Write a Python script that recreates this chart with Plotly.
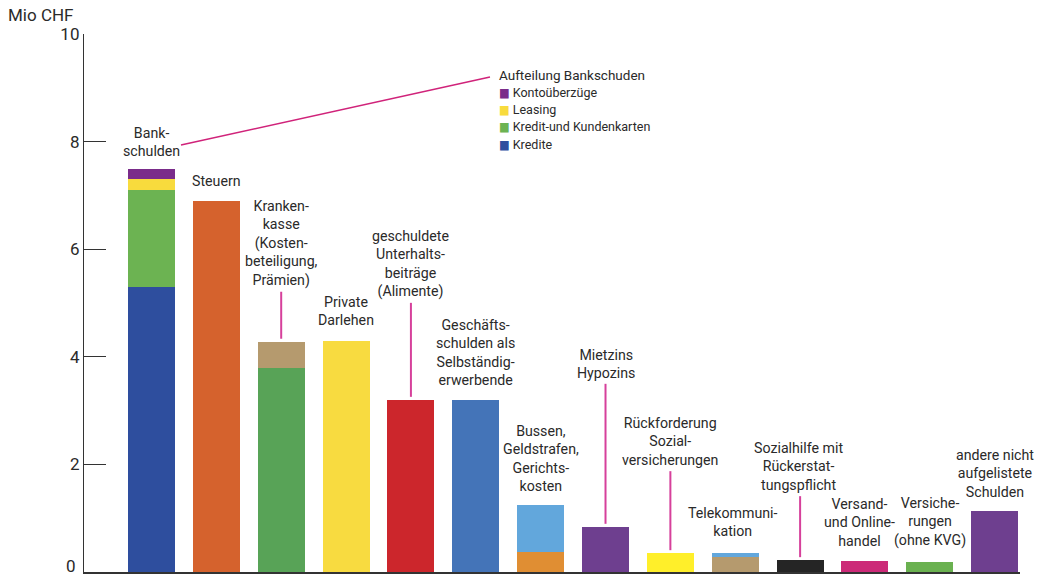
import plotly.graph_objects as go

# ---------------- data ----------------
categories = ["Bankschulden", "Steuern", "Krankenkasse", "Private Darlehen",
              "Unterhaltsbeiträge", "Geschäftsschulden", "Bussen", "Mietzins Hypozins",
              "Rückforderung Sozialversicherungen", "Telekommunikation", "Sozialhilfe",
              "Versand- und Onlinehandel", "Versicherungen", "andere"]
labels = ["Bank-<br>schulden", "Steuern",
          "Kranken-<br>kasse<br>(Kosten-<br>beteiligung,<br>Prämien)",
          "Private<br>Darlehen",
          "geschuldete<br>Unterhalts-<br>beiträge<br>(Alimente)",
          "Geschäfts-<br>schulden als<br>Selbständig-<br>erwerbende",
          "Bussen,<br>Geldstrafen,<br>Gerichts-<br>kosten",
          "Mietzins<br>Hypozins",
          "Rückforderung<br>Sozial-<br>versicherungen",
          "Telekommuni-<br>kation",
          "Sozialhilfe mit<br>Rückerstat-<br>tungspflicht",
          "Versand-<br>und Online-<br>handel",
          "Versiche-<br>rungen<br>(ohne KVG)",
          "andere nicht<br>aufgelistete<br>Schulden"]
seg1 = [5.30, 6.90, 3.80, 4.30, 3.20, 3.20, 0.38, 0.84, 0.35, 0.28, 0.22, 0.20, 0.19, 1.13]
seg2 = [1.80, 0, 0.48, 0, 0, 0, 0.86, 0, 0, 0.07, 0, 0, 0, 0]
seg3 = [0.20, 0, 0, 0, 0, 0, 0, 0, 0, 0, 0, 0, 0, 0]
seg4 = [0.20, 0, 0, 0, 0, 0, 0, 0, 0, 0, 0, 0, 0, 0]
bank_legend = ["Kontoüberzüge", "Leasing", "Kredit-und Kundenkarten", "Kredite"]
y_ticks = [0, 2, 4, 6, 8, 10]
y_ticktext = ["", "2", "4", "6", "8", "10"]

# ---------------- styles ----------------
C_KREDITE = "#2E4E9E"
C_KARTEN = "#6CB352"
C_LEASING = "#F8DB3D"
C_KONTO = "#7A2C8A"
C_TAN = "#B59A6E"
C_LBLUE = "#62A7DC"
col1 = [C_KREDITE, "#D5622D", "#58A357", "#F8DB40", "#CC262C", "#4474B8", "#E08E33",
        "#6E3F8F", "#FFEF2A", C_TAN, "#252525", "#CC2A78", "#6AB150", "#6E3F8F"]
col2 = [C_KARTEN, "#fff", C_TAN, "#fff", "#fff", "#fff", C_LBLUE, "#fff", "#fff",
        C_LBLUE, "#fff", "#fff", "#fff", "#fff"]
col3 = [C_LEASING] + ["#fff"] * 13
col4 = [C_KONTO] + ["#fff"] * 13
legend_colors = [C_KONTO, C_LEASING, C_KARTEN, C_KREDITE]

label_gap = [8, 10, 51, 11, 98, 10, 9, 144, 83, 12, 65, 10, 11, 9]
leader = [False, False, True, False, True, False, False, True, True, False, True, False, False, False]
label_dx = [0, 0, 0, 0, 0, 0, 0, 0, 0, -2, -2, -5, 0, 0]

FONT = "Roboto, DejaVu Sans Condensed, sans-serif"
TXT = "#2a2a2a"
PINK = "#D6409B"

W, H = 1044, 576
ML, MR, MT, MB = 84, 24, 34, 4
plot_w = W - ML - MR
plot_h = H - MT - MB
x_range = [-1.04, 13.39]
y_range = [0, 10]
ppu = plot_h / (y_range[1] - y_range[0])
ppx = plot_w / (x_range[1] - x_range[0])

xs = list(range(len(categories)))

fig = go.Figure()
for seg, col in [(seg1, col1), (seg2, col2), (seg3, col3), (seg4, col4)]:
    fig.add_trace(go.Bar(x=xs, y=seg, marker=dict(color=col, line=dict(width=0)),
                         width=0.725, showlegend=False, hoverinfo="skip"))

totals = [a + b + c + d for a, b, c, d in zip(seg1, seg2, seg3, seg4)]

annotations = []
shapes = []
for i, (lab, tot) in enumerate(zip(labels, totals)):
    annotations.append(dict(x=i, y=tot, xref="x", yref="y", text=lab, showarrow=False,
                            xanchor="center", yanchor="bottom", yshift=label_gap[i],
                            xshift=label_dx[i],
                            font=dict(family=FONT, size=14.2, color=TXT), align="center"))
    if leader[i]:
        shapes.append(dict(type="line", xref="x", yref="y", x0=i, x1=i,
                           y0=tot + 3 / ppu, y1=tot + (label_gap[i] - 1) / ppu,
                           line=dict(color=PINK, width=2)))

# Bank breakdown legend
leg_x = (497 - ML) / plot_w
def py2paper(py):
    return (H - MB - py) / plot_h

annotations.append(dict(x=leg_x, y=py2paper(75), xref="paper", yref="paper",
                        text="Aufteilung Bankschuden", showarrow=False, xanchor="left",
                        yanchor="middle", font=dict(family=FONT, size=13.5, color=TXT)))
for k, (name, col) in enumerate(zip(bank_legend, legend_colors)):
    annotations.append(dict(x=leg_x, y=py2paper(92 + k * 17.5), xref="paper", yref="paper",
                            text=f'<span style="color:{col}">■</span> {name}', showarrow=False,
                            xanchor="left", yanchor="middle",
                            font=dict(family=FONT, size=12.5, color=TXT)))

# leader line from bank label to legend
def px2x(px):
    return x_range[0] + (px - ML) / ppx
def py2y(py):
    return (H - MB - py) / ppu
shapes.append(dict(type="line", xref="x", yref="y", x0=px2x(181), y0=py2y(145),
                   x1=px2x(490), y1=py2y(77), line=dict(color="#D0237A", width=1.5)))

annotations.append(dict(x=0, y=1, xref="paper", yref="paper", xshift=-78, yshift=7,
                        text="Mio CHF", showarrow=False, xanchor="left", yanchor="bottom",
                        font=dict(family=FONT, size=17, color=TXT)))
# zero tick label, lifted slightly so it stays inside the page
annotations.append(dict(x=0, y=y_ticks[0], xref="paper", yref="y", xshift=-6, yshift=-6,
                        text=str(y_ticks[0]), showarrow=False, xanchor="right", yanchor="bottom",
                        font=dict(family=FONT, size=17, color=TXT)))

fig.update_layout(
    width=W, height=H, margin=dict(l=ML, r=MR, t=MT, b=MB, autoexpand=False),
    paper_bgcolor="white", plot_bgcolor="white", barmode="stack", bargap=0,
    showlegend=False, annotations=annotations, shapes=shapes,
    font=dict(family=FONT, color=TXT),
    xaxis=dict(range=x_range, showgrid=False, zeroline=False, showticklabels=False,
               ticks="", showline=True, linecolor="#333", linewidth=2, fixedrange=True,
               automargin=False),
    yaxis=dict(range=y_range, tickvals=y_ticks, ticktext=y_ticktext, showgrid=False,
               zeroline=False, ticks="inside", ticklen=22, tickwidth=1.3, tickcolor="#333",
               showline=True, linecolor="#333", linewidth=1.3,
               ticklabeloverflow="allow", automargin=False,
               tickfont=dict(family=FONT, size=17, color=TXT), fixedrange=True),
)

fig.write_html("out.html", config={"displayModeBar": False})
